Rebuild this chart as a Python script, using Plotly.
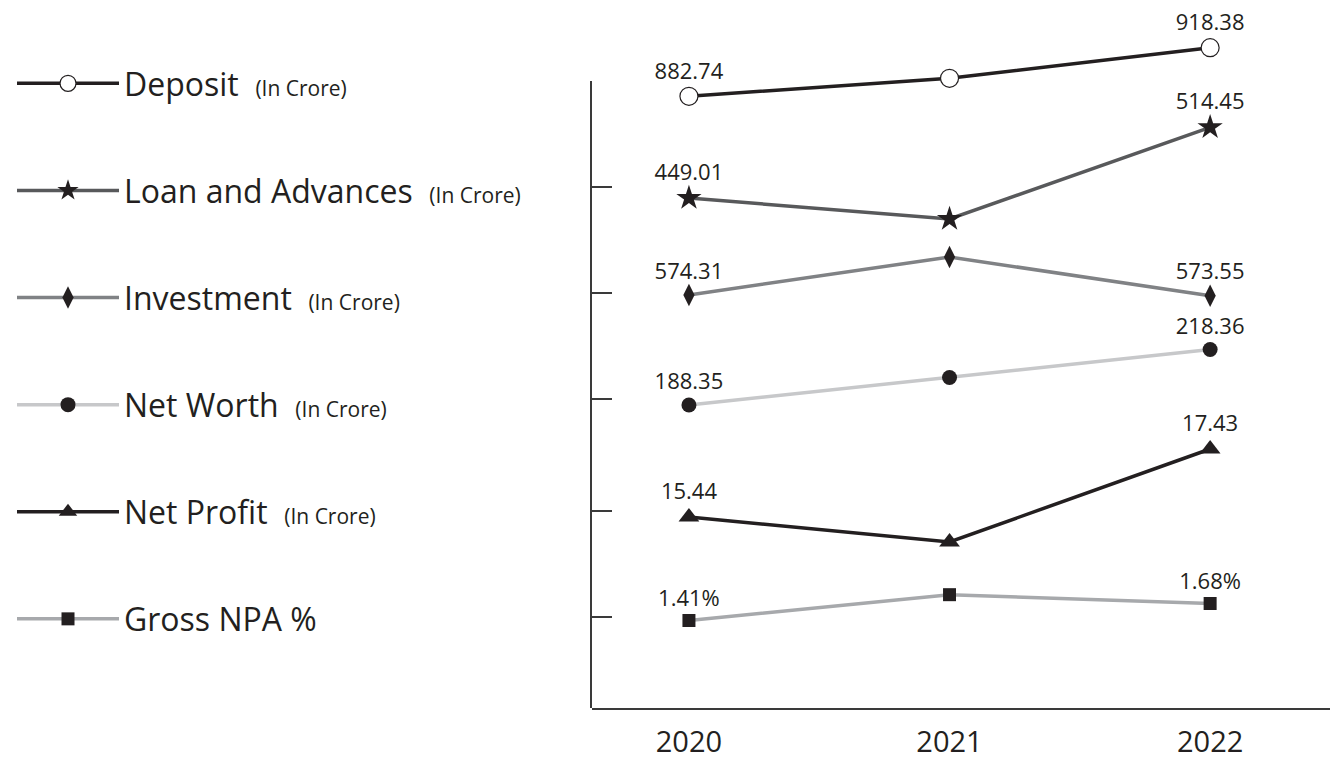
import plotly.graph_objects as go

# Years on the x axis
years = [2020, 2021, 2022]
year_labels = ["2020", "2021", "2022"]

# Series values (crore, except Gross NPA which is a percentage)
deposit = [882.74, 895.94, 918.38]
loan_advances = [449.01, 429.57, 514.45]
investment = [574.31, 612.30, 573.55]
net_worth = [188.35, 203.22, 218.36]
net_profit = [15.44, 14.71, 17.43]
gross_npa = [1.41, 1.82, 1.68]

# Only the first and last year carry a value label
labelled_years = [2020, 2022]

INK = "#231f20"
AXIS = "#3a3a3a"
FONT = "Open Sans"
SMALL = "<span style='font-size:21px'>(In Crore)</span>"

series = [
    # name, values, suffix, line colour, symbol, marker size, marker fill, axis range
    ("Deposit\u00a0\u00a0" + SMALL, deposit, "", INK, "circle", 18, "white", [434.15, 938.69]),
    ("Loan and Advances\u00a0\u00a0" + SMALL, loan_advances, "", "#58595b", "star", 19, INK, [-23.04, 613.76]),
    ("Investment\u00a0\u00a0" + SMALL, investment, "", "#808285", "diamond-tall", 16, INK, [161.31, 849.31]),
    ("Net Worth\u00a0\u00a0" + SMALL, net_worth, "", "#c7c8ca", "circle", 15, INK, [24.51, 396.52]),
    ("Net Profit\u00a0\u00a0" + SMALL, net_profit, "", INK, "triangle-up", 18, INK, [9.85, 29.985]),
    ("Gross NPA %", gross_npa, "%", "#a7a9ac", "square", 13, INK, [0.02, 10.948]),
]

fig = go.Figure()

# Empty trace on the subplot that carries the visible tick axis
fig.add_trace(go.Scatter(x=[], y=[], yaxis="y8", showlegend=False, hoverinfo="skip"))

layout_axes = {}
for i, (name, vals, suffix, lcol, sym, msize, mfill, rng) in enumerate(series):
    axis_id = f"y{i + 2}"
    labels = [f"{v:.2f}{suffix}" if yr in labelled_years else "" for yr, v in zip(years, vals)]
    fig.add_trace(go.Scatter(
        x=years, y=vals, name=name, yaxis=axis_id,
        mode="lines+markers+text",
        text=labels, textposition="top center",
        textfont=dict(family=FONT, size=22, color=INK),
        line=dict(color=lcol, width=3.5),
        marker=dict(symbol=sym, size=msize, color=mfill,
                    line=dict(color=INK, width=1.2 if mfill == "white" else 0)),
        legendgroup=f"g{i}",
        cliponaxis=False,
        hoverinfo="skip",
    ))
    layout_axes[f"yaxis{i + 2}"] = dict(
        overlaying="y", range=rng, visible=False, fixedrange=True, automargin=False,
    )

fig.update_layout(
    width=1332, height=760,
    margin=dict(l=592, r=2, t=20, b=52, autoexpand=False),
    paper_bgcolor="white", plot_bgcolor="rgba(0,0,0,0)",
    font=dict(family=FONT, color=INK),
    xaxis=dict(
        range=[2019.628, 2022.46],
        tickvals=years, ticktext=year_labels,
        showline=True, linewidth=2, linecolor=AXIS,
        ticks="", showgrid=False, zeroline=False,
        tickfont=dict(family=FONT, size=29, color=INK),
        ticklabelstandoff=7, automargin=False,
    ),
    # base axis for the overlaid series scales (not drawn)
    yaxis=dict(range=[0, 1], visible=False, fixedrange=True, automargin=False),
    # visible value axis: one tick per series band, stopping below the top of the drawing area
    yaxis8=dict(
        domain=[0, 0.91134], anchor="x",
        range=[0, 6.27],
        tickvals=[0.91, 1.97, 3.09, 4.15, 5.21, 6.27],
        showticklabels=False,
        showline=True, linewidth=2, linecolor=AXIS,
        ticks="inside", ticklen=20, tickwidth=2, tickcolor=AXIS,
        showgrid=False, zeroline=False, automargin=False,
    ),
    legend=dict(
        x=-0.7859, xanchor="left", y=0.9476, yanchor="top",
        font=dict(family=FONT, size=32, color=INK),
        itemwidth=102, tracegroupgap=62.5, traceorder="grouped",
        bgcolor="rgba(0,0,0,0)", maxheight=760,
    ),
    showlegend=True,
    **layout_axes,
)

fig.write_html("out.html")
